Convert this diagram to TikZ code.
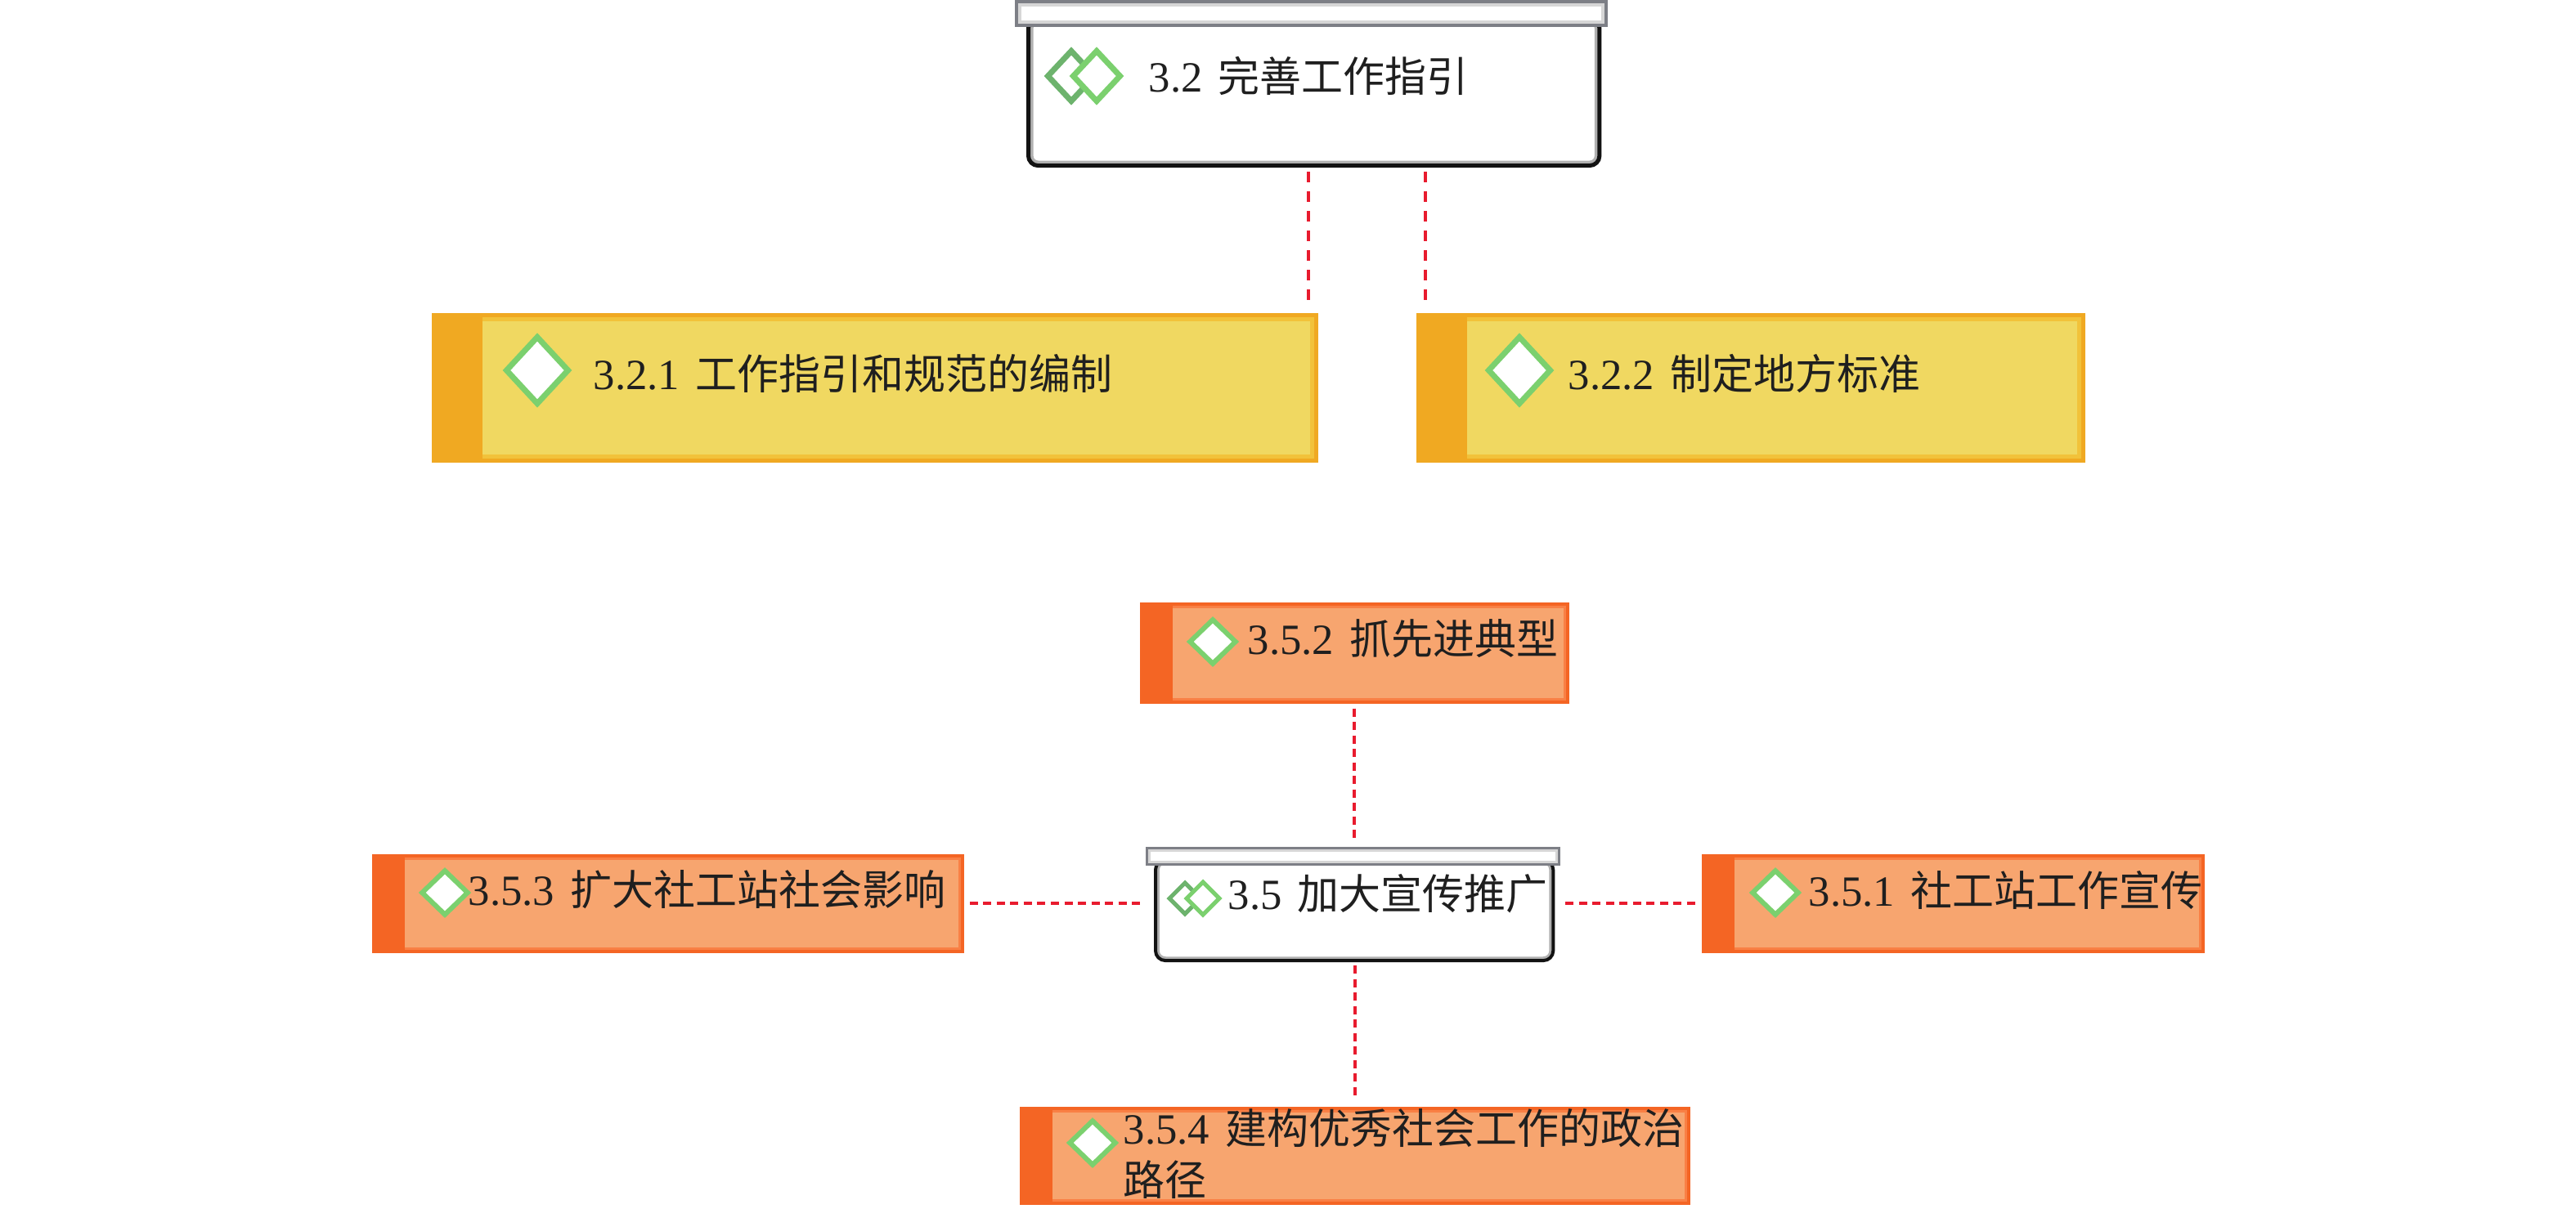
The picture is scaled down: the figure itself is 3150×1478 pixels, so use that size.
\documentclass[tikz,border=0pt]{standalone}
\usepackage{fontspec}
\setmainfont{Liberation Serif}
\newfontfamily\cjkfont{Noto Sans CJK SC}
\usetikzlibrary{shapes.geometric}
\definecolor{yellowfill}{HTML}{F0D861}
\definecolor{yellowband}{HTML}{F2C23A}
\definecolor{yellowedge}{HTML}{F0A922}
\definecolor{orangefill}{HTML}{F7A56F}
\definecolor{orangeband}{HTML}{F98045}
\definecolor{orangeedge}{HTML}{F46524}
\definecolor{capgray}{HTML}{7D7F86}
\definecolor{capband}{HTML}{D6D6D6}
\definecolor{bodyband}{HTML}{B0B0B0}
\definecolor{linkred}{HTML}{E81B2E}
\definecolor{icongreen}{HTML}{7BD06E}
\definecolor{icondark}{HTML}{6DB36D}
\newcommand{\zh}[1]{{\cjkfont\fontsize{14.5}{17.9}\selectfont #1}}
\newcommand{\numgap}{\hspace{0.19cm}}
\tikzset{
  framebox/.style n args={4}{anchor=north west, inner sep=0pt, fill=#1, draw=#2, line width=#4,
    path picture={\draw[#3, fill=none, line width=3*#4] (path picture bounding box.south west) rectangle (path picture bounding box.north east);}},
  yellowbox/.style={framebox={yellowfill}{yellowedge}{yellowband}{0.05cm}},
  orangebox/.style={framebox={orangefill}{orangeedge}{orangeband}{0.035cm}},
  capbar/.style={framebox={white}{capgray}{capband}{#1}},
  capbody/.style={anchor=north west, inner sep=0pt, fill=white, draw=black!93, line width=#1, rounded corners=0.12cm,
    path picture={\draw[bodyband, fill=none, line width=2.4*#1, rounded corners=0.12cm] (path picture bounding box.south west) rectangle (path picture bounding box.north east);}},
  tasktext/.style={anchor=base west, inner sep=0pt, align=left, text=black!88, font=\fontsize{15}{17.9}\selectfont},
  icon/.style={diamond, aspect=1, inner sep=0pt, fill=white, draw=#1},
  linkline/.style={draw=linkred, line width=0.04cm},
  longdash/.style={linkline, dash pattern=on 0.13cm off 0.11cm},
  shortdash/.style={linkline, dash pattern=on 0.10cm off 0.065cm}
}
\begin{document}
\begin{tikzpicture}[x=0.01cm,y=-0.01cm]
\useasboundingbox (0,0) rectangle (3150,1478);
\node[capbody=0.05cm, minimum width=6.98cm, minimum height=1.80cm] (b32) at (1255,20) {};
\node[capbar=0.04cm, minimum width=7.21cm, minimum height=0.29cm] (bar32) at (1241,0) {};
\node[yellowbox, minimum width=10.78cm, minimum height=1.78cm] (b321) at (528,383) {};
\node[yellowbox, minimum width=8.13cm, minimum height=1.78cm] (b322) at (1732,383) {};
\node[capbody=0.04cm, minimum width=4.86cm, minimum height=1.23cm] (b35) at (1411,1050) {};
\node[capbar=0.03cm, minimum width=5.04cm, minimum height=0.20cm] (bar35) at (1401,1036) {};
\node[orangebox, minimum width=5.21cm, minimum height=1.20cm] (b352) at (1394,737) {};
\node[orangebox, minimum width=7.20cm, minimum height=1.17cm] (b353) at (455,1045) {};
\node[orangebox, minimum width=6.11cm, minimum height=1.17cm] (b351) at (2081,1045) {};
\node[orangebox, minimum width=8.16cm, minimum height=1.16cm] (b354) at (1247,1354) {};
\foreach \b in {b321,b322} \fill[yellowedge] (\b.north west) rectangle ([xshift=0.62cm]\b.south west);
\foreach \b in {b352,b353,b351,b354} \fill[orangeedge] (\b.north west) rectangle ([xshift=0.40cm]\b.south west);
\draw[longdash, shorten <=0.05cm, shorten >=0.14cm] ([xshift=-0.115cm]b321.north east |- b32.south) -- ([xshift=-0.115cm]b321.north east);
\draw[longdash, shorten <=0.05cm, shorten >=0.14cm] ([xshift=0.11cm]b322.north west |- b32.south) -- ([xshift=0.11cm]b322.north west);
\draw[shortdash, shorten <=0.06cm, shorten >=0.05cm] (b352.south) -- (b352.south |- bar35.north);
\draw[shortdash, shorten <=0.04cm, shorten >=0.08cm] (b354.north |- b35.south) -- (b354.north);
\draw[shortdash, shorten <=0.07cm, shorten >=0.17cm] (b353.east) -- (b353.east -| b35.west);
\draw[shortdash, shorten <=0.13cm, shorten >=0.06cm] (b351.west -| b35.east) -- (b351.west);
\node[icon=icondark, line width=0.07cm, minimum width=0.60cm, minimum height=0.64cm] (i32b) at (1310,93) {};
\node[icon=icongreen, line width=0.07cm, minimum width=0.60cm, minimum height=0.64cm] (i32) at (1341,93) {};
\node[icon=icondark, line width=0.05cm, minimum width=0.40cm, minimum height=0.40cm] (i35b) at (1449,1099) {};
\node[icon=icongreen, line width=0.05cm, minimum width=0.42cm, minimum height=0.42cm] (i35) at (1471,1099) {};
\node[icon=icongreen, line width=0.07cm, minimum width=0.78cm, minimum height=0.84cm] (i321) at (657,453) {};
\node[icon=icongreen, line width=0.07cm, minimum width=0.78cm, minimum height=0.84cm] (i322) at (1858,453) {};
\node[icon=icongreen, line width=0.06cm, minimum width=0.58cm, minimum height=0.56cm] (i352) at (1483,785) {};
\node[icon=icongreen, line width=0.06cm, minimum width=0.58cm, minimum height=0.56cm] (i353) at (544,1092) {};
\node[icon=icongreen, line width=0.06cm, minimum width=0.58cm, minimum height=0.56cm] (i351) at (2171,1092) {};
\node[icon=icongreen, line width=0.06cm, minimum width=0.58cm, minimum height=0.56cm] (i354) at (1336,1398) {};
\node[tasktext] (t32) at (1404,112) {3.2\numgap\zh{完善工作指引}};
\node[tasktext] (t321) at (725,476) {3.2.1\numgap\zh{工作指引和规范的编制}};
\node[tasktext] (t322) at (1917,476) {3.2.2\numgap\zh{制定地方标准}};
\node[tasktext] (t35) at (1501,1112) {3.5\numgap\zh{加大宣传推广}};
\node[tasktext] (t352) at (1525,800) {3.5.2\numgap\zh{抓先进典型}};
\node[tasktext] (t353) at (572,1107) {3.5.3\numgap\zh{扩大社工站社会影响}};
\node[tasktext] (t351) at (2211,1108) {3.5.1\numgap\zh{社工站工作宣传}};
\node[tasktext] (t354) at (1373,1462) {3.5.4\numgap\zh{建构优秀社会工作的政治}\\\zh{路径}};
\end{tikzpicture}
\end{document}
